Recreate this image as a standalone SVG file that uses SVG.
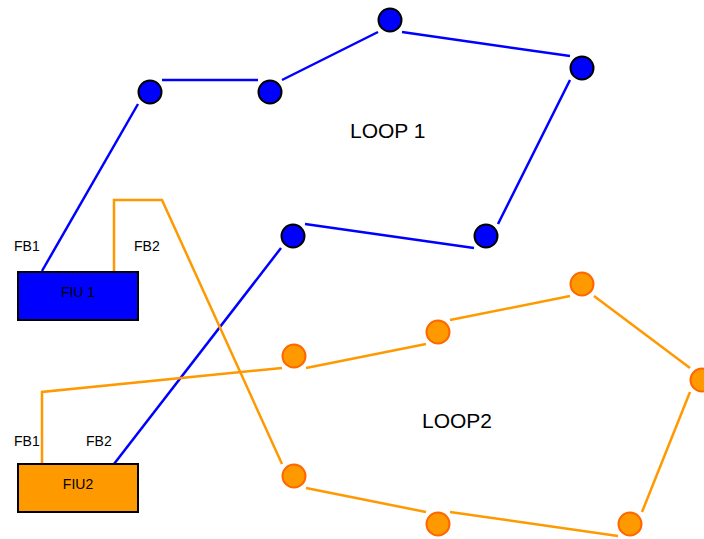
<svg xmlns="http://www.w3.org/2000/svg" width="704" height="539" viewBox="0 0 704 539">
  <style>
    .wire { fill: none; stroke-width: 2.5; stroke-linejoin: miter; }
    .blue { stroke: #0000FF; }
    .orange { stroke: #FF9900; }
    .nb { fill: #0000FF; stroke: #000000; stroke-width: 2; }
    .no { fill: #FF9900; stroke: #FF6600; stroke-width: 2; }
    .fiu { stroke: #000000; stroke-width: 2; }
    text { font-family: "Liberation Sans", Arial, sans-serif; fill: #000000; }
    .small { font-size: 14px; }
    .big { font-size: 21px; }
  </style>

  <!-- connectors -->
  <g id="connectors">
    <!-- loop 1 -->
    <polyline class="wire blue" points="42,271 138,104"/>
    <line class="wire blue" x1="162" y1="80" x2="258" y2="80"/>
    <line class="wire blue" x1="282" y1="80" x2="378" y2="32"/>
    <line class="wire blue" x1="402" y1="32" x2="570" y2="56"/>
    <line class="wire blue" x1="570" y1="80" x2="498" y2="224"/>
    <line class="wire blue" x1="474" y1="248" x2="305" y2="224"/>
    <line class="wire blue" x1="281" y1="248" x2="114" y2="464"/>
    <!-- loop 2 -->
    <polyline class="wire orange" points="42,464 42,392 282,368"/>
    <line class="wire orange" x1="306" y1="368" x2="426" y2="344"/>
    <line class="wire orange" x1="450" y1="320" x2="570" y2="296"/>
    <line class="wire orange" x1="594" y1="296" x2="690" y2="368"/>
    <line class="wire orange" x1="690" y1="392" x2="642" y2="512"/>
    <line class="wire orange" x1="618" y1="536" x2="450" y2="512"/>
    <line class="wire orange" x1="426" y1="512" x2="306" y2="488"/>
    <polyline class="wire orange" points="282,464 162,200 114,200 114,272"/>
  </g>

  <!-- loop 1 nodes -->
  <g id="b1"><circle class="nb" cx="150" cy="92" r="11.5"/></g>
  <g id="b2"><circle class="nb" cx="270" cy="92" r="11.5"/></g>
  <g id="b3"><circle class="nb" cx="390" cy="20" r="11.5"/></g>
  <g id="b4"><circle class="nb" cx="582" cy="68" r="11.5"/></g>
  <g id="b5"><circle class="nb" cx="486" cy="236" r="11.5"/></g>
  <g id="b6"><circle class="nb" cx="293" cy="236" r="11.5"/></g>

  <!-- loop 2 nodes -->
  <g id="o1"><circle class="no" cx="294" cy="356" r="11.5"/></g>
  <g id="o2"><circle class="no" cx="438" cy="332" r="11.5"/></g>
  <g id="o3"><circle class="no" cx="582" cy="284" r="11.5"/></g>
  <g id="o4"><circle class="no" cx="702" cy="380" r="11.5"/></g>
  <g id="o5"><circle class="no" cx="630" cy="524" r="11.5"/></g>
  <g id="o6"><circle class="no" cx="438" cy="524" r="11.5"/></g>
  <g id="o7"><circle class="no" cx="294" cy="476" r="11.5"/></g>

  <!-- interface units -->
  <g id="fiu1">
    <rect class="fiu" x="18" y="272" width="120" height="48" fill="#0000FF"/>
    <text class="small" x="78" y="297" text-anchor="middle">FIU 1</text>
    <text class="small" x="14" y="251">FB1</text>
    <text class="small" x="134" y="251">FB2</text>
  </g>
  <g id="fiu2">
    <rect class="fiu" x="18" y="464" width="120" height="48" fill="#FF9900"/>
    <text class="small" x="78" y="489" text-anchor="middle">FIU2</text>
    <text class="small" x="14" y="446">FB1</text>
    <text class="small" x="86" y="446">FB2</text>
  </g>

  <!-- loop labels -->
  <g id="loop1-label"><text class="big" x="350" y="138">LOOP 1</text></g>
  <g id="loop2-label"><text class="big" x="422" y="428">LOOP2</text></g>
</svg>
